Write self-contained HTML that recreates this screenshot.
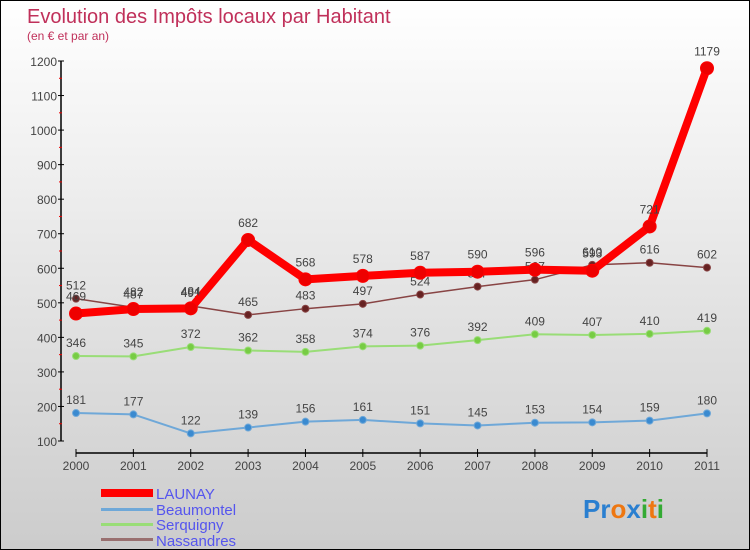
<!DOCTYPE html>
<html><head><meta charset="utf-8"><style>
body{margin:0;}
#wrap{width:750px;height:550px;position:relative;box-sizing:border-box;border:1px solid #000;background:linear-gradient(#fff,#ccc);overflow:hidden;font-family:"Liberation Sans",sans-serif;}
svg{position:absolute;left:0;top:0;}
</style></head><body>
<div id="wrap">
<svg id="chart" width="750" height="550">
<text x="26" y="22" font-size="20" fill="#c0305a">Evolution des Impôts locaux par Habitant</text>
<text x="26" y="39" font-size="12" fill="#c0305a">(en € et par an)</text>
<g id="axes"></g><g id="series"></g>
<g>
<rect x="100" y="488" width="52" height="8" fill="#f00"/>
<text x="155" y="498" font-size="15" fill="#5555ee">LAUNAY</text>
<rect x="100" y="507" width="52" height="3" fill="#6fa8d8"/>
<text x="155" y="514" font-size="15" fill="#5555ee">Beaumontel</text>
<rect x="100" y="522" width="52" height="3" fill="#99dd77"/>
<text x="155" y="529" font-size="15" fill="#5555ee">Serquigny</text>
<rect x="100" y="537" width="52" height="3" fill="#997070"/>
<text x="155" y="545" font-size="15" fill="#5555ee">Nassandres</text>
</g>
<text x="582" y="517" font-size="26" font-weight="bold"><tspan fill="#2a7fd0">Pr</tspan><tspan fill="#ee7711">o</tspan><tspan fill="#2a7fd0">x</tspan><tspan fill="#33aa33">i</tspan><tspan fill="#ee7711">t</tspan><tspan fill="#33aa33">i</tspan></text>
</svg></div>
<script>
const years=[2000,2001,2002,2003,2004,2005,2006,2007,2008,2009,2010,2011];
const yTicks=[100,200,300,400,500,600,700,800,900,1000,1100,1200];
const launay=[469,482,484,682,568,578,587,590,596,593,721,1179];
const beaumontel=[181,177,122,139,156,161,151,145,153,154,159,180];
const serquigny=[346,345,372,362,358,374,376,392,409,407,410,419];
const nassandres=[512,487,491,465,483,497,524,547,567,610,616,602];
const NS='http://www.w3.org/2000/svg';
const X=i=>75+i*(706-75)/11;
const Y=v=>440-(v-100)*380/1100;
function mk(tag,attrs,parent){const e=document.createElementNS(NS,tag);for(const k in attrs)e.setAttribute(k,attrs[k]);parent.appendChild(e);return e;}
const ax=document.getElementById('axes');
let a=mk('line',{x1:60,y1:60,x2:60,y2:440,stroke:'#000','stroke-width':1.5},ax);


a=mk('line',{x1:75,y1:452,x2:706,y2:452,stroke:'#000','stroke-width':1.5},ax);


yTicks.forEach((t,i)=>{
  const y=Y(t);
  mk('line',{x1:57,y1:y,x2:63,y2:y,stroke:'#000'},ax);
  if(i<yTicks.length-1){mk('line',{x1:58,y1:Y(t+50),x2:61,y2:Y(t+50),stroke:'#e00'},ax);}
  const tx=mk('text',{x:56,y:y+5,'font-size':12,'text-anchor':'end',fill:'#444'},ax);
  tx.textContent=t;
  
  
});
years.forEach((yr,i)=>{
  mk('line',{x1:X(i),y1:448,x2:X(i),y2:456,stroke:'#000'},ax);
  const tx=mk('text',{x:X(i),y:469,'font-size':12,'text-anchor':'middle',fill:'#444'},ax);
  tx.textContent=yr;
  
  
});
const sg=document.getElementById('series');
function draw(data,name,color,w,r,dot,lab){
  const g=mk('g',{},sg);
  
  
  const pl=mk('polyline',{points:data.map((v,i)=>X(i)+','+Y(v)).join(' '),fill:'none',stroke:color,'stroke-width':w,'stroke-linejoin':'round'},g);
  
  
  data.forEach((v,i)=>{
    const c=mk('circle',{cx:X(i),cy:Y(v),r:r,fill:dot,stroke:color,'stroke-width':1},g);
    
    
    const t=mk('text',{x:X(i),y:Y(v)-9-(r>5?4:0),'font-size':12,'text-anchor':'middle',fill:'#444'},g);
    t.textContent=v;
    
    
  });
}
draw(beaumontel,'beaumontel','#6fa8d8',2,3.5,'#3a8ad0');
draw(serquigny,'serquigny','#99dd77',2,3.5,'#77cc44');
draw(nassandres,'nassandres','#884444',1.5,3.5,'#662222');
draw(launay,'launay','#ff0000',8,6.5,'#ee0000');
</script>
</body></html>
